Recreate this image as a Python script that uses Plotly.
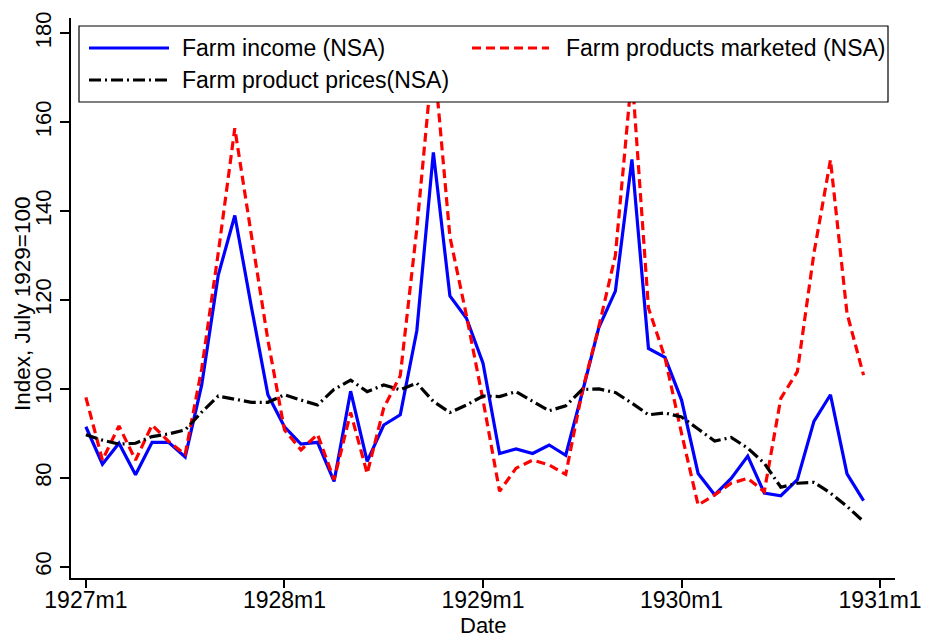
import plotly.graph_objects as go

# ---- data (monthly, 1927m1 .. 1930m12) ----
month_index = list(range(48))
tick_positions = [0, 12, 24, 36, 48]
tick_labels = ["1927m1", "1928m1", "1929m1", "1930m1", "1931m1"]

farm_income = [
    91.5, 83.1, 87.8, 80.7, 88.0, 88.0, 84.7, 100.9, 125.6, 139.0, 118.5, 98.7,
    91.5, 87.6, 88.0, 79.2, 99.5, 83.7, 91.9, 94.2, 113.1, 153.2, 120.9, 115.9,
    105.8, 85.5, 86.5, 85.5, 87.4, 85.1, 99.2, 113.8, 122.0, 151.6, 109.1, 107.1,
    97.5, 81.0, 76.2, 79.9, 84.9, 76.6, 76.0, 79.6, 92.7, 98.7, 80.9, 74.9,
]
farm_marketed = [
    98.1, 84.0, 91.7, 84.0, 91.9, 88.2, 85.3, 104.5, 130.6, 158.6, 134.6, 111.0,
    90.8, 86.3, 89.8, 79.6, 94.7, 81.0, 95.7, 103.0, 136.0, 176.0, 134.2, 116.5,
    97.5, 77.0, 82.2, 84.0, 82.9, 80.8, 99.5, 114.0, 130.0, 171.0, 118.2, 107.0,
    90.0, 73.9, 76.2, 78.8, 79.9, 76.9, 97.9, 103.9, 130.5, 151.5, 117.0, 103.1,
]
farm_prices = [
    89.7, 88.5, 87.6, 87.8, 89.3, 89.9, 90.8, 94.8, 98.4, 97.7, 97.0, 97.0,
    98.7, 97.5, 96.4, 99.9, 102.0, 99.4, 100.9, 99.8, 101.3, 97.2, 94.7, 96.4,
    98.4, 98.3, 99.4, 97.2, 95.1, 96.2, 99.9, 100.0, 99.2, 96.8, 94.2, 94.6,
    93.7, 91.0, 88.3, 89.1, 86.7, 83.3, 77.9, 78.8, 79.0, 76.6, 73.6, 70.2,
]
y_ticks = [60, 80, 100, 120, 140, 160, 180]

series_names = ["Farm income (NSA)", "Farm products marketed (NSA)", "Farm product prices(NSA)"]
series_colors = ["#0000FF", "#FF0000", "#000000"]
series_dash = ["solid", "9px,5px", "12px,4px,2px,4px"]

FONT = "Liberation Sans, Arial, sans-serif"
W, H = 925, 639
ML, MR, MT, MB = 71, 30, 18, 61
PW, PH = W - ML - MR, H - MT - MB


def px(x):
    return (x - ML) / PW


def py(y):
    return (H - MB - y) / PH


fig = go.Figure()
for vals, name, col, dash in zip([farm_income, farm_marketed, farm_prices],
                                 series_names, series_colors, series_dash):
    fig.add_trace(go.Scatter(x=month_index, y=vals, mode="lines", name=name,
                             line=dict(color=col, width=3.2, dash=dash),
                             showlegend=False, cliponaxis=True))

# ---- custom legend box drawn over the lines ----
shapes = [dict(type="rect", xref="paper", yref="paper",
               x0=px(79), x1=px(888), y0=py(102), y1=py(26),
               line=dict(color="black", width=1.2), fillcolor="white", layer="above")]
annotations = []
legend_slots = [(89, 169, 180, 48), (472, 549, 564, 48), (89, 169, 180, 80)]
for (x0, x1, tx, yy), name, col, dash in zip(legend_slots, series_names, series_colors, series_dash):
    shapes.append(dict(type="line", xref="paper", yref="paper",
                       x0=px(x0), x1=px(x1), y0=py(yy), y1=py(yy),
                       line=dict(color=col, width=3.2, dash=dash), layer="above"))
    annotations.append(dict(xref="paper", yref="paper", x=px(tx), y=py(yy),
                            xanchor="left", yanchor="middle", text=name, showarrow=False,
                            font=dict(family=FONT, size=23, color="black")))

# axis titles placed as in the reference
annotations.append(dict(xref="paper", yref="paper", x=px(22), y=py(304),
                        xanchor="center", yanchor="middle", textangle=-90,
                        text="Index, July 1929=100", showarrow=False,
                        font=dict(family=FONT, size=22.5, color="black")))
annotations.append(dict(xref="paper", yref="paper", x=px(483), y=py(639),
                        xanchor="center", yanchor="bottom", borderpad=0,
                        text="Date", showarrow=False,
                        font=dict(family=FONT, size=22, color="black")))

fig.update_layout(
    width=W, height=H,
    margin=dict(l=ML, r=MR, t=MT, b=MB, autoexpand=False),
    paper_bgcolor="white", plot_bgcolor="white",
    font=dict(family=FONT, size=23, color="black"),
    shapes=shapes, annotations=annotations, showlegend=False,
    xaxis=dict(range=[-0.9, 48.9], tickvals=tick_positions, ticktext=tick_labels,
               showline=True, linecolor="black", linewidth=1.5, mirror=False,
               ticks="outside", ticklen=8, tickwidth=1.5, tickcolor="black",
               showgrid=False, zeroline=False, tickfont=dict(size=23),
               ticklabelstandoff=-7, automargin=False),
    yaxis=dict(range=[57.5, 183.4], tickvals=y_ticks, tickangle=-90,
               showline=True, linecolor="black", linewidth=1.5,
               ticks="outside", ticklen=9, tickwidth=1.5, tickcolor="black",
               showgrid=False, zeroline=False, tickfont=dict(size=22),
               automargin=False),
)

fig.write_html("out.html")
